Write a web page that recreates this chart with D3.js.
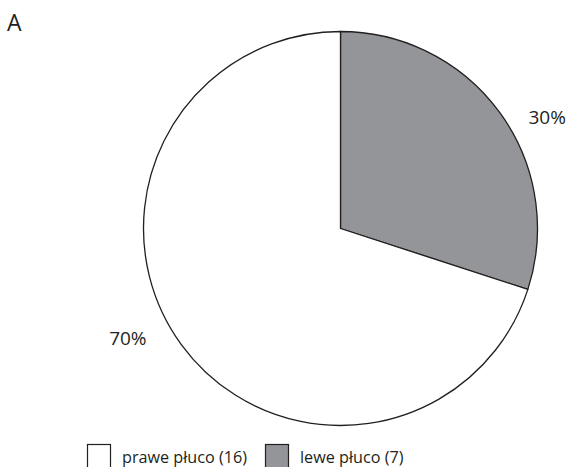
<!DOCTYPE html>
<html><head><meta charset="utf-8">
<script src="https://cdn.jsdelivr.net/npm/d3@7"></script>
<style>body{margin:0;background:#fff}svg{display:block}</style>
</head><body>
<svg id="c" width="567" height="467"></svg>
<script>
const categories = ["lewe płuco (7)", "prawe płuco (16)"];
const values = [30, 70];
const labels = ["30%", "70%"];
const colors = ["#939598", "#ffffff"];
const legendOrder = [1, 0];

const svg = d3.select("#c");
const font = "'Open Sans', sans-serif";
const cx = 340.5, cy = 228.5, r = 197;

svg.append("text").attr("x", 7).attr("y", 31).attr("font-family", font)
  .attr("font-size", 23).attr("fill", "#231f20").text("A");

const pie = d3.pie().sort(null).value(d => d)(values);
const arc = d3.arc().innerRadius(0).outerRadius(r);
const g = svg.append("g").attr("transform", `translate(${cx},${cy})`);
g.selectAll("path").data(pie).join("path")
  .attr("d", arc).attr("fill", (d, i) => colors[i])
  .attr("stroke", "#231f20").attr("stroke-width", 1.3).attr("stroke-linejoin", "round");

const off = 8.2 * Math.PI / 180;
const labArc = d3.arc().innerRadius(237).outerRadius(237);
g.selectAll("text.lab").data(pie).join("text").attr("class", "lab")
  .attr("transform", d => {
    const c = labArc.centroid({startAngle: d.startAngle + off, endAngle: d.endAngle + off});
    return `translate(${c[0] - 3},${c[1] + 6})`;
  })
  .attr("text-anchor", "middle").attr("font-family", font).attr("font-size", 19)
  .attr("fill", "#231f20").text((d, i) => labels[i]);

const lg = svg.append("g");
const lx = [87.5, 265.5];
legendOrder.forEach((k, j) => {
  lg.append("rect").attr("x", lx[j]).attr("y", 444.5).attr("width", 23).attr("height", 26)
    .attr("fill", colors[k]).attr("stroke", "#231f20").attr("stroke-width", 1.2);
  lg.append("text").attr("x", lx[j] + 34.5).attr("y", 463).attr("font-family", font)
    .attr("font-size", 16.2).attr("fill", "#231f20").text(categories[k]);
});
</script>
</body></html>
